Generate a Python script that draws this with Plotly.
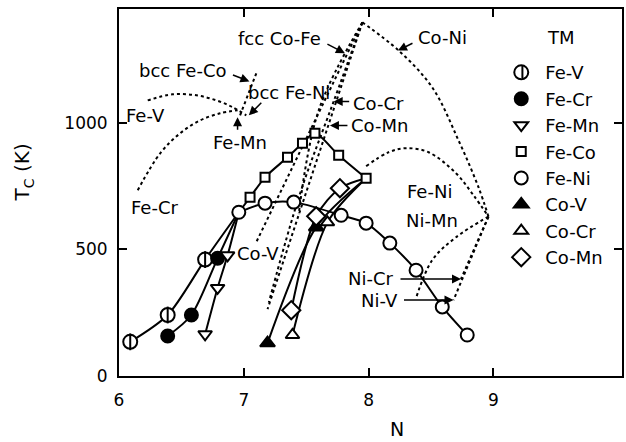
import plotly.graph_objects as go

# ---- experimental Curie temperatures (solid curves with symbols) ----
feV_n = [6.09, 6.39, 6.69, 6.96]
feV_t = [135, 241, 460, 647]
feCr_n = [6.39, 6.58, 6.79, 6.96]
feCr_t = [158, 241, 465, 647]
feMn_n = [6.69, 6.79, 6.87, 6.96]
feMn_t = [165, 348, 477, 647]
feCo_n = [6.96, 7.05, 7.17, 7.35, 7.47, 7.57, 7.76, 7.98]
feCo_t = [647, 706, 785, 864, 920, 959, 872, 781]
feNi_n = [6.96, 7.17, 7.40, 7.78, 7.98, 8.17, 8.38, 8.59, 8.79]
feNi_t = [647, 683, 687, 635, 604, 525, 418, 273, 162]
coV_n = [7.19, 7.58, 7.98]
coV_t = [130, 588, 781]
coCr_n = [7.39, 7.67, 7.98]
coCr_t = [162, 607, 781]
coMn_n = [7.38, 7.58, 7.77, 7.98]
coMn_t = [260, 631, 742, 781]

# ---- calculated curves (dotted) ----
dFeCr_n = [6.15, 6.33, 6.49, 6.65, 6.81, 6.95]
dFeCr_t = [734, 880, 959, 1010, 1038, 1050]
dFeV_n = [6.23, 6.43, 6.62, 6.78, 6.91, 7.02]
dFeV_t = [1089, 1113, 1109, 1089, 1062, 1030]
dbccFeCo_n = [7.10, 6.97]
dbccFeCo_t = [1196, 1030]
dCoFe_n = [7.95, 7.60, 7.44]
dCoFe_t = [1397, 1050, 640]
dCoV_n = [7.95, 7.10]
dCoV_t = [1397, 529]
dCoCr_n = [7.95, 7.72, 7.45, 7.20]
dCoCr_t = [1397, 1085, 720, 290]
dCoMn_n = [7.95, 7.69, 7.19]
dCoMn_t = [1397, 1010, 264]
dCoNi_n = [7.95, 8.24, 8.51, 8.72, 8.88, 8.96]
dCoNi_t = [1397, 1286, 1140, 931, 746, 630]
dFeNi_n = [7.98, 8.16, 8.30, 8.48, 8.70, 8.84, 8.96]
dFeNi_t = [829, 884, 900, 884, 801, 714, 630]
dNiMn_n = [8.96, 8.70, 8.51, 8.38]
dNiMn_t = [630, 548, 458, 308]
dNiCr_n = [8.96, 8.74]
dNiCr_t = [630, 383]
dNiV_n = [8.96, 8.68]
dNiV_t = [630, 300]

legend_names = ["Fe-V", "Fe-Cr", "Fe-Mn", "Fe-Co", "Fe-Ni", "Co-V", "Co-Cr", "Co-Mn"]

FONT = "DejaVu Sans"
fig = go.Figure()

def solid(n, t):
    fig.add_trace(go.Scatter(x=n, y=t, mode="lines", showlegend=False,
                             line=dict(color="black", width=2, shape="spline", smoothing=0.8),
                             hoverinfo="skip"))

def dotted(n, t, shape="spline"):
    fig.add_trace(go.Scatter(x=n, y=t, mode="lines", showlegend=False,
                             line=dict(color="black", width=2, dash="dot", shape=shape),
                             hoverinfo="skip"))

def marks(n, t, symbol, size, lw=2, color="white"):
    fig.add_trace(go.Scatter(x=n, y=t, mode="markers", showlegend=False,
                             marker=dict(symbol=symbol, size=size, color=color,
                                         line=dict(color="black", width=lw))))

for n, t in [(dFeCr_n, dFeCr_t), (dFeV_n, dFeV_t), (dCoNi_n, dCoNi_t), (dFeNi_n, dFeNi_t),
             (dNiMn_n, dNiMn_t), (dCoFe_n, dCoFe_t), (dCoCr_n, dCoCr_t)]:
    dotted(n, t)
for n, t in [(dbccFeCo_n, dbccFeCo_t), (dCoV_n, dCoV_t), (dCoMn_n, dCoMn_t),
             (dNiCr_n, dNiCr_t), (dNiV_n, dNiV_t)]:
    dotted(n, t, "linear")

for n, t in [(feV_n, feV_t), (feCr_n, feCr_t), (feMn_n, feMn_t), (feCo_n, feCo_t),
             (feNi_n, feNi_t), (coV_n, coV_t), (coCr_n, coCr_t), (coMn_n, coMn_t)]:
    solid(n, t)

# symbols (end points shared with Fe-Ni / Fe-Co are drawn once)
marks(feV_n[:-1], feV_t[:-1], "circle", 14)
marks(feV_n[:-1], feV_t[:-1], "line-ns", 12)
marks(feCr_n[:-1], feCr_t[:-1], "circle", 13, color="black")
marks(feMn_n[:-1], feMn_t[:-1], "triangle-down", 12)
marks(feCo_n[1:], feCo_t[1:], "square", 9)
marks(feNi_n, feNi_t, "circle", 13)
marks(coV_n[:-1], coV_t[:-1], "triangle-up", 13, color="black")
marks(coCr_n[:-1], coCr_t[:-1], "triangle-up", 12)
marks(coMn_n[:-1], coMn_t[:-1], "diamond", 14)

# legend entries (Fe-V circle left unfilled so its bar shape shows through)
leg_style = [("circle", 14, "rgba(0,0,0,0)"), ("circle", 13, "black"),
             ("triangle-down", 12, "white"), ("square", 9, "white"), ("circle", 13, "white"),
             ("triangle-up", 13, "black"), ("triangle-up", 12, "white"),
             ("diamond", 14, "white")]
for name, (sym, sz, col) in zip(legend_names, leg_style):
    fig.add_trace(go.Scatter(x=[None], y=[None], mode="markers", name=name,
                             marker=dict(symbol=sym, size=sz, color=col,
                                         line=dict(color="black", width=2))))

labels = [
    ("fcc Co-Fe", 7.285, 1334), ("bcc Fe-Co", 6.51, 1207), ("bcc Fe-Ni", 7.36, 1121),
    ("Fe-V", 6.215, 1030), ("Fe-Mn", 6.97, 923), ("Fe-Cr", 6.29, 667),
    ("Co-Cr", 8.08, 1077), ("Co-Mn", 8.09, 990), ("Co-Ni", 8.59, 1338),
    ("Fe-Ni", 8.49, 730), ("Ni-Mn", 8.51, 616), ("Ni-Cr", 8.02, 387),
    ("Ni-V", 8.09, 300), ("Co-V", 7.11, 485),
]
for txt, x, y in labels:
    fig.add_annotation(x=x, y=y, text=txt, showarrow=False,
                       font=dict(family=FONT, size=18, color="black"))

arrows = [
    (7.81, 1275, -19, -10), (7.045, 1164, -18, -7), (7.04, 1030, 14, -14),
    (6.95, 1022, 0, 14), (7.72, 1085, 17, 0), (7.69, 990, 19, 0),
    (8.235, 1286, 16, -8), (8.74, 383, -62, 0), (8.68, 300, -51, 0),
]
for x, y, ax, ay in arrows:
    fig.add_annotation(x=x, y=y, ax=ax, ay=ay, text="", showarrow=True,
                       arrowhead=2, arrowsize=1.2, arrowwidth=1.5, arrowcolor="black")

# legend title and axis titles
fig.add_annotation(x=0.879, y=0.921, xref="paper", yref="paper", text="TM", showarrow=False,
                   xanchor="center", yanchor="middle",
                   font=dict(family=FONT, size=18, color="black"))
fig.add_annotation(x=-0.19, y=0.556, xref="paper", yref="paper", text="T<sub>C</sub> (K)",
                   textangle=-90, showarrow=False, xanchor="center", yanchor="middle",
                   font=dict(family=FONT, size=20, color="black"))
fig.add_annotation(x=0.5535, y=-0.145, xref="paper", yref="paper", text="N",
                   showarrow=False, xanchor="center", yanchor="middle",
                   font=dict(family=FONT, size=19, color="black"))

# vertical bar of the Fe-V legend symbol
fig.add_shape(type="line", xref="paper", yref="paper", x0=0.802, x1=0.802, y0=0.812, y1=0.845,
              line=dict(color="black", width=2))

axis_common = dict(showline=True, linecolor="black", linewidth=2, mirror="ticks",
                   ticks="inside", ticklen=8, tickwidth=1.5, tickcolor="black",
                   showgrid=False, zeroline=False,
                   tickfont=dict(family=FONT, size=17, color="black"))

fig.update_layout(
    width=626, height=442,
    margin=dict(l=119, r=2, t=9, b=66),
    plot_bgcolor="white", paper_bgcolor="white",
    xaxis=dict(range=[6, 10.03], tickvals=[6, 7, 8, 9], ticklabelstandoff=8, **axis_common),
    yaxis=dict(range=[0, 1450], tickvals=[0, 500, 1000], ticklabelstandoff=6, **axis_common),
    legend=dict(x=0.752, y=0.877, xanchor="left", yanchor="top", bgcolor="rgba(0,0,0,0)",
                font=dict(family=FONT, size=18, color="black"), tracegroupgap=0,
                itemwidth=38),
    showlegend=True,
)

fig.write_html("out.html")
